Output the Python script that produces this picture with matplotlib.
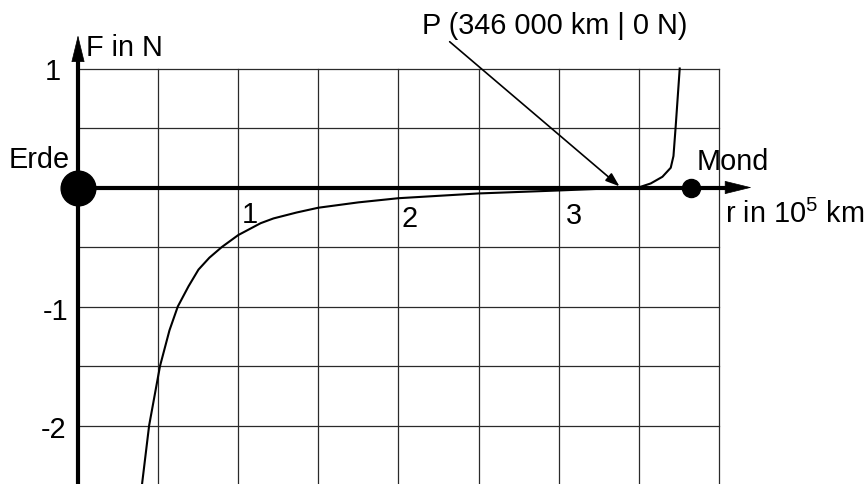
import matplotlib
matplotlib.use("Agg")
import matplotlib.pyplot as plt

plt.rcParams['font.family'] = ['Liberation Sans', 'DejaVu Sans']
plt.rcParams['mathtext.fontset'] = 'custom'
plt.rcParams['mathtext.rm'] = 'Liberation Sans'

# Resulting force on a probe between Earth and Moon (r in 10^5 km, F in N)
r_vals = [0.40, 0.444, 0.512, 0.571, 0.623, 0.690, 0.752, 0.820, 0.898, 1.00,
          1.14, 1.22, 1.365, 1.50, 1.75, 2.00, 2.50, 3.00, 3.46, 3.51, 3.575,
          3.648, 3.70, 3.717, 3.731, 3.756]
f_vals = [-2.49, -2.00, -1.50, -1.20, -1.00, -0.83, -0.69, -0.59, -0.50, -0.40,
          -0.30, -0.26, -0.21, -0.17, -0.125, -0.09, -0.05, -0.025, 0.0, 0.005,
          0.034, 0.09, 0.166, 0.264, 0.516, 1.00]

x_grid = [0.5, 1.0, 1.5, 2.0, 2.5, 3.0, 3.5, 4.0]
y_grid = [-2.0, -1.5, -1.0, -0.5, 0.5, 1.0]
x_ticks = ["1", "2", "3"]
x_tick_pos = [1, 2, 3]
y_ticks = ["1", "-1", "-2"]
y_tick_pos = [1, -1, -2]

moon_r = 3.825
p_r = 3.46

fig = plt.figure(figsize=(8.64, 4.84), dpi=100)
ax = fig.add_axes([0, 0, 1, 1])
ax.set_xlim(-78 / 160.2, (864 - 78) / 160.2)
ax.set_ylim((187.5 - 484) / 119.0, 187.5 / 119.0)
ax.axis('off')

# grid
for gx in x_grid:
    ax.plot([gx, gx], [-2.7, 1.0], color='#2a2a2a', lw=0.9, zorder=1)
for gy in y_grid:
    ax.plot([0, 4.0], [gy, gy], color='#2a2a2a', lw=0.9, zorder=1)

# axes with arrows
ax.plot([0, 0], [-2.7, 1.1], color='black', lw=3.0, zorder=3, solid_capstyle='butt')
ax.plot([0, 4.05], [0, 0], color='black', lw=3.0, zorder=3, solid_capstyle='butt')
ax.annotate('', xy=(0, 1.28), xytext=(0, 1.0),
            arrowprops=dict(arrowstyle='-|>,head_length=0.9,head_width=0.22',
                            mutation_scale=20, lw=0.5, color='black',
                            shrinkA=0, shrinkB=0), zorder=4)
ax.annotate('', xy=(4.205, 0), xytext=(3.9, 0),
            arrowprops=dict(arrowstyle='-|>,head_length=0.9,head_width=0.22',
                            mutation_scale=20, lw=0.5, color='black',
                            shrinkA=0, shrinkB=0), zorder=4)

# force curve
ax.plot(r_vals, f_vals, color='black', lw=1.5, zorder=5)

# Earth and Moon
ax.plot([0], [0], 'o', color='black', markersize=25, zorder=6)
ax.plot([moon_r], [0], 'o', color='black', markersize=13, zorder=6)

fs = 20.8
ax.text(-0.05, 0.161, 'Erde', fontsize=fs, ha='right', va='baseline')
ax.text(3.864, 0.147, 'Mond', fontsize=fs, ha='left', va='baseline')
ax.text(0.05, 1.105, 'F in N', fontsize=fs, ha='left', va='baseline')
ax.text(4.04, -0.30, r'r in 10$^\mathregular{5}$ km', fontsize=fs,
        ha='left', va='baseline')

x_lab_off = [(0.022, -0.30), (0.02, -0.33), (0.046, -0.307)]
for lab, pos, (dx, by) in zip(x_ticks, x_tick_pos, x_lab_off):
    ax.text(pos + dx, by, lab, fontsize=fs, ha='left', va='baseline')

y_lab_off = [(-0.106, -0.097), (-0.06, -0.113), (-0.07, -0.108)]
for lab, pos, (xr, dy) in zip(y_ticks, y_tick_pos, y_lab_off):
    ax.text(xr, pos + dy, lab, fontsize=fs, ha='right', va='baseline')

# point P where the forces cancel
ax.text(2.145, 1.287, 'P (346 000 km | 0 N)', fontsize=fs, ha='left', va='baseline')
ax.annotate('', xy=(p_r - 0.08, 0.01), xytext=(2.32, 1.225),
            arrowprops=dict(arrowstyle='-|>,head_length=0.7,head_width=0.25',
                            mutation_scale=12, lw=1.2, color='black',
                            shrinkA=0, shrinkB=0), zorder=7)

fig.savefig('out.png', dpi=100)
